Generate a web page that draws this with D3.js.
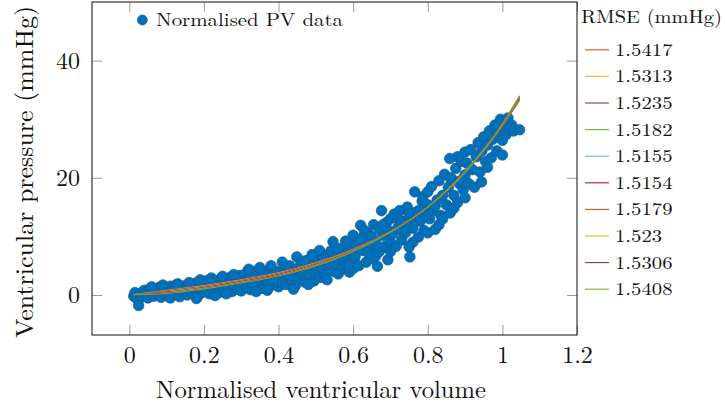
<!DOCTYPE html>
<html>
<head>
<meta charset="utf-8">
<script src="https://cdn.jsdelivr.net/npm/d3@7/dist/d3.min.js"></script>
<style>
  html, body { margin: 0; padding: 0; background: #fff; }
  svg { display: block; }
  text { font-family: "Latin Modern Roman", "Liberation Serif", "DejaVu Serif", serif; fill: #111; }
</style>
</head>
<body>
<svg id="chart" width="725" height="409"></svg>
<script>
// ---------------- data ----------------
const xTicks = [0, 0.2, 0.4, 0.6, 0.8, 1, 1.2];
const yTicks = [0, 20, 40];
const xTickLabels = ["0", "0.2", "0.4", "0.6", "0.8", "1", "1.2"];
const yTickLabels = ["0", "20", "40"];

// scatter: [normalised volume, pressure]
const pvPoints = [
  [0.012,-0.2],[0.015,0.4],[0.02,-0.6],[0.025,-1.8],[0.03,0.3],[0.035,-0.3],[0.04,0.8],[0.045,0.1],[0.05,-0.5],[0.055,1.0],
  [0.06,0.4],[0.065,-0.2],[0.07,0.9],[0.075,0.2],[0.08,1.3],[0.085,-0.4],[0.09,0.6],[0.095,1.1],[0.1,-0.1],[0.1,0.8],
  [0.105,0.3],[0.11,1.5],[0.11,-0.5],[0.115,0.9],[0.12,0.1],[0.125,1.7],[0.13,0.6],[0.135,-0.3],[0.14,1.2],[0.145,0.4],
  [0.15,1.6],[0.155,0.0],[0.16,0.9],[0.165,1.4],[0.17,0.3],[0.175,2.0],[0.18,0.8],[0.185,-0.1],[0.19,1.3],[0.195,2.2],
  [0.2,0.5],[0.2,1.7],[0.13,1.9],[0.16,2.1],[0.19,2.6],[0.06,1.4],[0.09,1.7],[0.18,-0.6],
  [0.205,1.1],[0.21,2.5],[0.215,0.2],[0.22,1.8],[0.225,0.7],[0.23,2.3],[0.235,1.3],[0.24,0.4],[0.245,2.8],[0.25,1.6],
  [0.255,0.9],[0.26,2.2],[0.265,1.2],[0.27,3.0],[0.275,0.6],[0.28,1.9],[0.285,2.6],[0.29,1.0],[0.295,3.3],[0.3,1.8],
  [0.3,0.7],[0.3,2.6],[0.22,2.9],[0.25,3.2],[0.28,3.5],[0.26,0.2],[0.23,-0.1],
  [0.305,2.2],[0.31,3.6],[0.315,1.2],[0.32,2.8],[0.325,0.9],[0.33,4.0],[0.335,2.0],[0.34,3.2],[0.345,1.5],[0.35,2.6],
  [0.355,3.9],[0.36,1.1],[0.365,3.0],[0.37,2.2],[0.375,4.3],[0.38,1.6],[0.385,3.5],[0.39,2.5],[0.395,4.0],[0.4,1.4],
  [0.4,3.0],[0.4,2.2],[0.36,3.4],[0.33,1.8],[0.32,4.4],[0.35,4.7],[0.38,5.0],[0.34,0.6],[0.37,0.8],
  [0.405,3.7],[0.41,2.0],[0.415,4.6],[0.42,1.8],[0.425,3.2],[0.43,5.0],[0.435,2.5],[0.44,3.9],[0.445,1.6],[0.449,6.5],
  [0.45,4.4],[0.455,2.9],[0.46,5.4],[0.465,3.5],[0.47,2.2],[0.475,4.8],[0.48,6.0],[0.485,3.1],[0.49,5.2],[0.495,2.4],
  [0.5,4.2],[0.5,6.4],[0.5,3.3],[0.47,5.8],[0.43,3.4],[0.42,4.8],[0.41,5.6],[0.44,1.0],[0.48,1.8],[0.49,6.9],
  [0.505,5.5],[0.51,3.0],[0.515,7.0],[0.52,4.6],[0.525,3.3],[0.53,6.2],[0.535,5.0],[0.54,7.5],[0.546,9.1],[0.55,4.0],
  [0.555,6.8],[0.56,3.6],[0.565,5.8],[0.57,8.0],[0.575,4.5],[0.58,7.0],[0.585,6.0],[0.59,3.9],[0.595,8.6],[0.6,5.2],
  [0.6,7.4],[0.6,10.2],[0.6,4.5],[0.58,9.2],[0.55,5.4],[0.52,6.4],[0.57,6.6],[0.59,5.0],[0.53,2.6],[0.56,7.9],[0.51,7.6],
  [0.605,6.5],[0.61,8.6],[0.615,5.0],[0.62,11.9],[0.625,7.6],[0.63,9.6],[0.635,5.6],[0.64,10.5],[0.645,8.0],[0.65,6.2],
  [0.655,12.0],[0.66,9.1],[0.665,4.9],[0.67,7.4],[0.676,14.4],[0.68,10.2],[0.685,8.3],[0.69,12.4],[0.693,6.0],[0.695,11.0],
  [0.7,9.0],[0.7,13.0],[0.7,7.4],[0.67,11.3],[0.66,6.6],[0.64,7.2],[0.63,11.0],[0.68,12.0],[0.62,9.6],[0.65,10.0],
  [0.705,10.4],[0.71,13.8],[0.715,8.3],[0.72,11.5],[0.725,14.4],[0.73,9.4],[0.735,12.6],[0.74,10.6],[0.745,15.0],[0.75,8.2],
  [0.752,6.5],[0.755,13.0],[0.76,11.4],[0.765,17.6],[0.77,14.2],[0.775,9.9],[0.78,12.6],[0.785,16.0],[0.787,16.8],[0.79,11.0],
  [0.795,13.8],[0.8,15.4],[0.8,10.6],[0.8,17.6],[0.72,13.0],[0.74,12.0],[0.76,9.0],[0.78,14.6],[0.73,11.0],[0.75,14.0],
  [0.805,13.0],[0.81,18.5],[0.815,14.4],[0.82,11.2],[0.825,16.2],[0.83,19.5],[0.835,13.6],[0.84,17.0],[0.845,20.6],[0.85,15.4],
  [0.855,18.4],[0.859,23.3],[0.86,14.0],[0.865,19.8],[0.87,17.0],[0.875,21.6],[0.88,15.8],[0.885,19.0],[0.89,22.8],[0.895,18.0],
  [0.9,20.5],[0.9,24.4],[0.9,16.6],[0.82,15.2],[0.84,13.0],[0.86,20.0],[0.88,23.6],[0.87,14.8],[0.83,12.0],[0.89,19.6],
  [0.905,22.5],[0.91,19.0],[0.915,24.8],[0.92,21.4],[0.925,18.4],[0.93,23.6],[0.935,26.0],[0.94,21.0],[0.944,19.3],[0.945,24.6],
  [0.95,27.0],[0.955,22.8],[0.96,25.6],[0.965,28.0],[0.97,23.4],[0.975,26.6],[0.98,29.0],[0.985,24.6],[0.99,27.6],[0.995,30.0],
  [1.0,23.9],[1.0,28.6],[1.0,26.4],[1.005,29.6],[1.01,27.4],[1.015,30.2],[1.02,28.4],[1.025,29.0],[1.03,28.0],[1.046,28.2],
  [0.96,21.8],[0.99,29.0]
];

// fitted curves (sampled at these volumes)
const fitVolume = [0.01, 0.1, 0.2, 0.3, 0.4, 0.5, 0.6, 0.7, 0.8, 0.9, 1.0, 1.046];
const fit1  = [0.05,0.80,1.65,2.65,3.85,5.55,7.80,10.90,15.0,20.90,28.80,33.2];
const fit2  = [0.05,0.74,1.56,2.56,3.76,5.46,7.75,10.85,15.0,20.90,28.90,33.3];
const fit3  = [0.05,0.68,1.48,2.48,3.68,5.38,7.70,10.85,15.0,20.95,28.90,33.4];
const fit4  = [0.05,0.62,1.40,2.40,3.60,5.30,7.70,10.80,15.0,20.95,29.00,33.5];
const fit5  = [0.05,0.56,1.34,2.34,3.54,5.24,7.65,10.80,15.0,21.00,29.00,33.55];
const fit6  = [0.05,0.50,1.28,2.28,3.48,5.18,7.60,10.80,15.0,21.00,29.05,33.6];
const fit7  = [0.05,0.44,1.22,2.22,3.42,5.12,7.55,10.75,15.0,21.05,29.10,33.7];
const fit8  = [0.05,0.38,1.16,2.16,3.36,5.06,7.50,10.75,15.0,21.05,29.10,33.8];
const fit9  = [0.05,0.32,1.10,2.10,3.30,5.00,7.45,10.70,15.0,21.10,29.20,33.9];
const fit10 = [0.05,0.26,1.04,2.04,3.24,4.94,7.40,10.70,15.0,21.10,29.20,34.0];
const fitSeries = [fit1, fit2, fit3, fit4, fit5, fit6, fit7, fit8, fit9, fit10];
const rmseLabels = ["1.5417","1.5313","1.5235","1.5182","1.5155","1.5154","1.5179","1.523","1.5306","1.5408"];
const fitColors = ["#D95319","#EDB120","#7E2F8E","#77AC30","#4DBEEE","#A2142F","#D95319","#EDB120","#7E2F8E","#77AC30"];

// ---------------- drawing ----------------
const svg = d3.select("#chart");
const L = 92, R = 577, T = 2, B = 335;
const x = d3.scaleLinear().domain([-0.1, 1.2]).range([L, R]);
const y = d3.scaleLinear().domain([-6.83, 50]).range([B, T]);

function stretch(sel, f) {
  sel.each(function () {
    const w = this.getComputedTextLength();
    this.setAttribute("textLength", (w * f).toFixed(1));
    this.setAttribute("lengthAdjust", "spacingAndGlyphs");
  });
}

// clip
svg.append("defs").append("clipPath").attr("id", "plotclip")
  .append("rect").attr("x", L).attr("y", T).attr("width", R - L).attr("height", B - T);

const plot = svg.append("g").attr("clip-path", "url(#plotclip)");

// scatter
plot.append("g").selectAll("circle").data(pvPoints).join("circle")
  .attr("cx", d => x(d[0])).attr("cy", d => y(d[1])).attr("r", 5.3)
  .attr("fill", "#0072BD").attr("stroke", "#175a8a").attr("stroke-width", 0.7);

// curves
const line = d3.line().x((d, i) => x(fitVolume[i])).y(d => y(d)).curve(d3.curveMonotoneX);
plot.append("g").selectAll("path").data(fitSeries).join("path")
  .attr("d", d => line(d)).attr("fill", "none")
  .attr("stroke", (d, i) => fitColors[i]).attr("stroke-width", 1.1);

// axes ticks
const tickColor = "#9a9a9a";
const axB = svg.append("g").attr("transform", `translate(0,${B})`)
  .call(d3.axisBottom(x).tickValues(xTicks).tickSizeInner(-10).tickSizeOuter(0).tickPadding(11)
        .tickFormat((d, i) => xTickLabels[i]));
const axT = svg.append("g").attr("transform", `translate(0,${T})`)
  .call(d3.axisTop(x).tickValues(xTicks).tickSizeInner(-10).tickSizeOuter(0).tickFormat(""));
const axLft = svg.append("g").attr("transform", `translate(${L},0)`)
  .call(d3.axisLeft(y).tickValues(yTicks).tickSizeInner(-10).tickSizeOuter(0).tickPadding(12)
        .tickFormat((d, i) => yTickLabels[i]));
const axRt = svg.append("g").attr("transform", `translate(${R},0)`)
  .call(d3.axisRight(y).tickValues(yTicks).tickSizeInner(-10).tickSizeOuter(0).tickFormat(""));
[axB, axT, axLft, axRt].forEach(a => {
  a.select(".domain").remove();
  a.selectAll(".tick line").attr("stroke", tickColor).attr("stroke-width", 1);
  a.selectAll("text").attr("font-size", 24).attr("fill", "#111")
    .style("font-family", '"Latin Modern Roman","Liberation Serif","DejaVu Serif",serif');
});
axLft.selectAll("text").attr("dy", "0.33em");

// frame
svg.append("rect").attr("x", L).attr("y", T).attr("width", R - L).attr("height", B - T)
  .attr("fill", "none").attr("stroke", "#222").attr("stroke-width", 1.1);

// axis titles
svg.append("text").attr("x", 156).attr("y", 398).attr("font-size", 25)
  .attr("textLength", 330).attr("lengthAdjust", "spacingAndGlyphs")
  .text("Normalised ventricular volume");
svg.append("text").attr("transform", "translate(33,338) rotate(-90)").attr("font-size", 25)
  .attr("textLength", 332).attr("lengthAdjust", "spacingAndGlyphs")
  .text("Ventricular pressure (mmHg)");

// in-plot legend
svg.append("circle").attr("cx", x(0.035)).attr("cy", 20).attr("r", 5)
  .attr("fill", "#0072BD").attr("stroke", "#175a8a").attr("stroke-width", 0.7);
svg.append("text").attr("x", 156).attr("y", 26).attr("font-size", 18)
  .attr("textLength", 187).attr("lengthAdjust", "spacingAndGlyphs")
  .text("Normalised PV data");

// RMSE legend
svg.append("text").attr("x", 581).attr("y", 23).attr("font-size", 18)
  .attr("textLength", 141).attr("lengthAdjust", "spacingAndGlyphs")
  .text("RMSE (mmHg)");
const leg = svg.append("g").selectAll("g").data(rmseLabels).join("g")
  .attr("transform", (d, i) => `translate(0,${49.8 + i * 26.6})`);
leg.append("line").attr("x1", 585).attr("x2", 609).attr("y1", 0).attr("y2", 0)
  .attr("stroke", (d, i) => fitColors[i]).attr("stroke-width", 1.1);
const legText = leg.append("text").attr("x", 615).attr("y", 6).attr("font-size", 18).text(d => d);
stretch(legText, 1.15);
</script>
</body>
</html>
